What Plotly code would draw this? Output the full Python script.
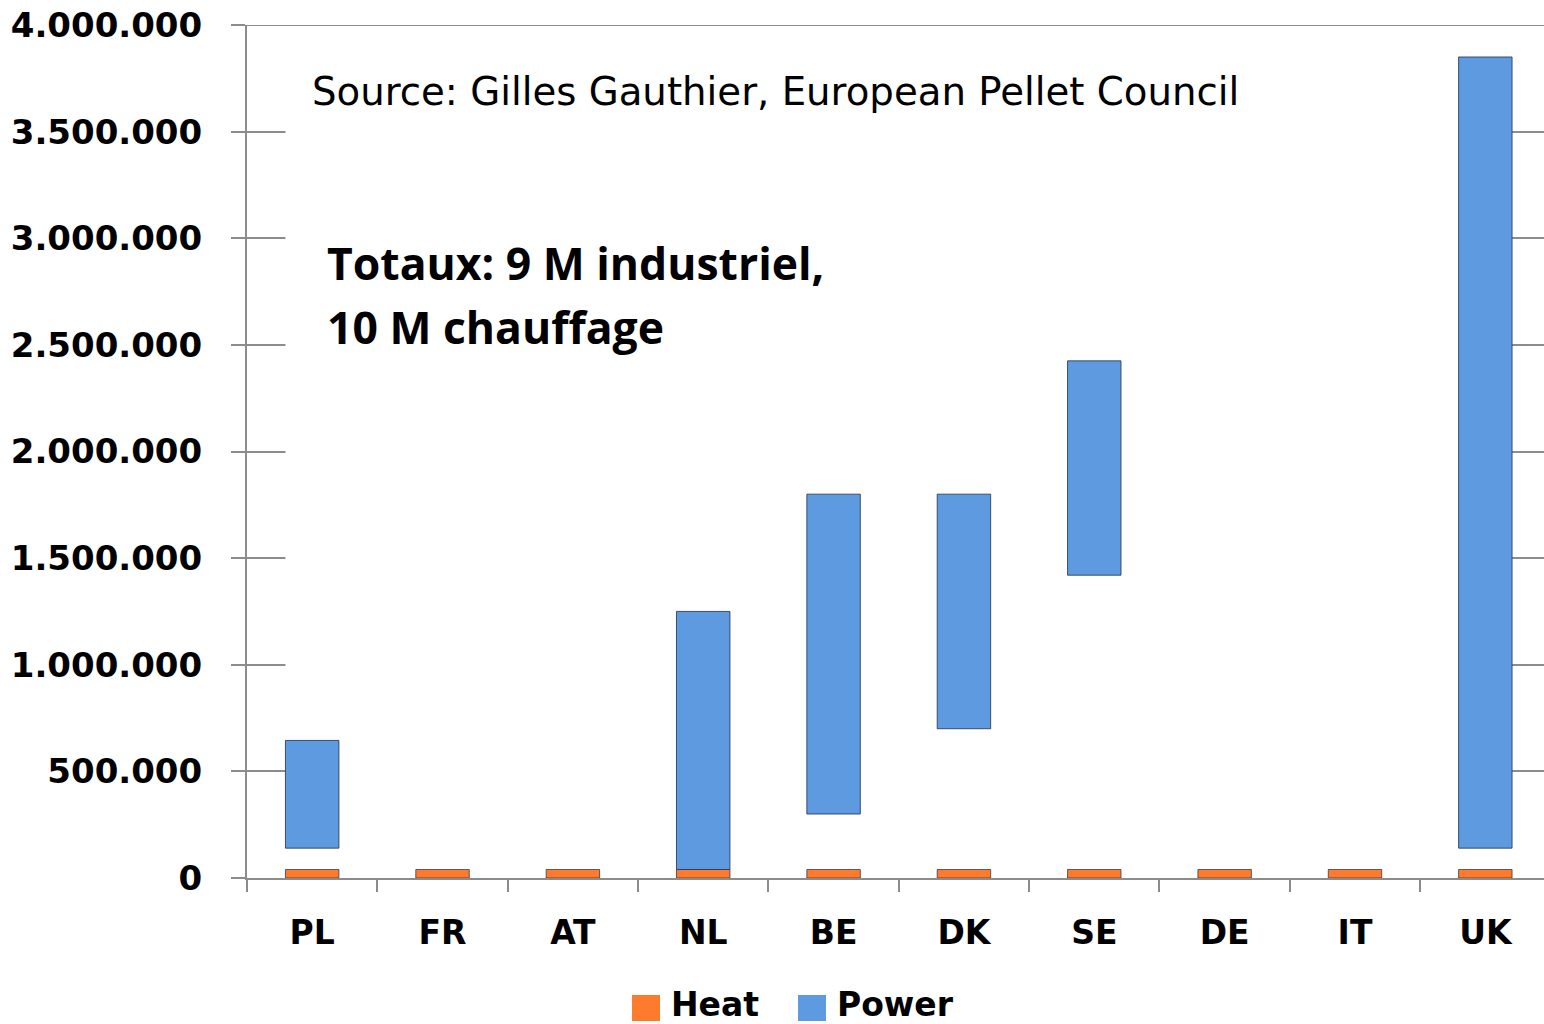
import plotly.graph_objects as go

# ---- data ----
countries = ["PL", "FR", "AT", "NL", "BE", "DK", "SE", "DE", "IT", "UK"]
heat = [40000, 40000, 40000, 40000, 40000, 40000, 40000, 40000, 40000, 40000]
power_base = [140000, None, None, 40000, 300000, 700000, 1420000, None, None, 140000]
power_top = [645000, None, None, 1250000, 1800000, 1800000, 2425000, None, None, 3850000]
y_ticks = [0, 500000, 1000000, 1500000, 2000000, 2500000, 3000000, 3500000, 4000000]
y_tick_labels = ["0", "500.000", "1.000.000", "1.500.000", "2.000.000", "2.500.000",
                 "3.000.000", "3.500.000", "4.000.000"]

HEAT_COLOR = "#fe7b2d"
POWER_COLOR = "#5d9ae0"
GRID = "#8c8c8c"
BAR_W = 0.41

W, H = 1544, 1024
ML, MR, MT, MB = 247, 0, 25, 146

def px_x(p):
    return (p - ML) / (W - ML - MR)

def px_y(p):
    return 1 - (p - MT) / (H - MT - MB)

power_len = [None if b is None else t - b for b, t in zip(power_base, power_top)]

fig = go.Figure()
fig.add_trace(go.Bar(
    x=countries, y=heat, name="Heat", width=BAR_W,
    marker=dict(color=HEAT_COLOR, line=dict(color="rgba(50,50,60,0.75)", width=1)),
))
fig.add_trace(go.Bar(
    x=countries, y=power_len, base=power_base, name="Power", width=BAR_W,
    marker=dict(color=POWER_COLOR, line=dict(color="rgba(40,55,80,0.85)", width=1)),
))

n = len(countries)
# white panel hiding the grid between the outer bars (as in the source image)
fig.add_shape(type="rect", layer="between", xref="x", yref="y",
              x0=-BAR_W / 2, x1=n - 1 + BAR_W / 2, y0=100000, y1=3950000,
              fillcolor="white", line=dict(width=0))

# top gridline (range edge)
fig.add_shape(type="line", xref="paper", yref="y", x0=-14 / (W - ML), x1=1,
              y0=y_ticks[-1], y1=y_ticks[-1], line=dict(color=GRID, width=2))

annotations = [
    dict(text="Source: Gilles Gauthier, European Pellet Council", xref="paper", yref="paper",
         x=px_x(310), y=px_y(91), xanchor="left", yanchor="middle", showarrow=False,
         font=dict(family="DejaVu Sans", size=38.7, color="black")),
    dict(text="<b>Totaux: 9 M industriel,</b>", xref="paper", yref="paper",
         x=px_x(325), y=px_y(262), xanchor="left", yanchor="middle", align="left",
         showarrow=False,
         font=dict(family="Open Sans", size=44.5, color="black")),
    dict(text="<b>10 M chauffage</b>", xref="paper", yref="paper",
         x=px_x(325), y=px_y(326), xanchor="left", yanchor="middle", align="left",
         showarrow=False,
         font=dict(family="Open Sans", size=44.5, color="black")),
]

# manual legend
legend_items = [("Heat", HEAT_COLOR, 632), ("Power", POWER_COLOR, 798)]
for name, col, x0 in legend_items:
    fig.add_shape(type="rect", xref="paper", yref="paper",
                  x0=px_x(x0), x1=px_x(x0 + 28), y0=px_y(1021), y1=px_y(995),
                  fillcolor=col, line=dict(width=0))
    annotations.append(dict(text="<b>%s</b>" % name, xref="paper", yref="paper",
                            x=px_x(x0 + 37), y=px_y(1004), xanchor="left", yanchor="middle",
                            showarrow=False,
                            font=dict(family="DejaVu Sans", size=33, color="black")))

fig.update_layout(
    width=W, height=H,
    margin=dict(l=ML, r=MR, t=MT, b=MB, pad=0),
    paper_bgcolor="white", plot_bgcolor="white",
    barmode="overlay", showlegend=False,
    annotations=annotations,
    font=dict(family="DejaVu Sans", color="black"),
)
fig.update_xaxes(
    range=[-0.5, n - 1 + 0.45],
    tickvals=countries, ticktext=["<b>%s</b>" % c for c in countries],
    showline=True, linecolor=GRID, linewidth=2,
    ticks="outside", tickson="boundaries", ticklen=12, tickwidth=2, tickcolor=GRID,
    showgrid=False,
    tickfont=dict(family="DejaVu Sans", size=33, color="black"),
    ticklabelstandoff=24,
)
fig.update_yaxes(
    range=[0, 4000000],
    tickvals=y_ticks, ticktext=["<b>%s</b>" % t for t in y_tick_labels],
    showline=True, linecolor=GRID, linewidth=2,
    ticks="outside", ticklen=14, tickwidth=2, tickcolor=GRID,
    showgrid=True, gridcolor=GRID, gridwidth=2,
    zeroline=False,
    tickfont=dict(family="DejaVu Sans", size=34, color="black"),
    ticklabelstandoff=22,
)

fig.write_html("out.html", config={"displayModeBar": False},
               post_script="document.body.style.margin='0';document.body.style.overflow='hidden';")
